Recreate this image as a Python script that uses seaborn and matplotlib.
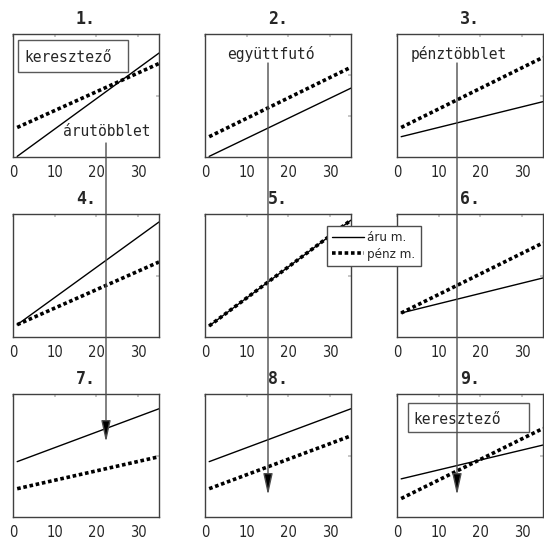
import pandas as pd
import matplotlib
matplotlib.use("Agg")
import matplotlib.pyplot as plt
import seaborn as sns
from matplotlib.patches import FancyArrowPatch, Rectangle

# values (y as fraction of each panel's height)
titles = ["1.", "2.", "3.", "4.", "5.", "6.", "7.", "8.", "9."]
x_vals = [1, 35]
aru_m = [[0.005, 0.845], [0.005, 0.56], [0.165, 0.45],
         [0.10, 0.935], [0.09, 0.95], [0.195, 0.48],
         [0.45, 0.88], [0.45, 0.88], [0.31, 0.585]]
penz_m = [[0.24, 0.76], [0.165, 0.73], [0.24, 0.81],
          [0.10, 0.61], [0.09, 0.95], [0.195, 0.765],
          [0.23, 0.49], [0.23, 0.66], [0.15, 0.72]]
xticks = [0, 10, 20, 30]
series_names = ["áru m.", "pénz m."]

rows = []
for i in range(9):
    for name, vals in zip(series_names, [aru_m[i], penz_m[i]]):
        for x, y in zip(x_vals, vals):
            rows.append({"panel": i, "series": name, "x": x, "y": y})
df = pd.DataFrame(rows)

sns.set_theme(style="white")
plt.rcParams["font.family"] = ["DejaVu Sans"]
mono = ["DejaVu Sans Mono"]

W, H = 544, 540
fig = plt.figure(figsize=(W / 100, H / 100), dpi=100)


def fx(px):
    return px / W


def fy(py):
    return 1 - py / H


lefts = [13, 205, 397]
tops = [34, 214, 394]
aw, ah = 146, 123

axes = []
for i in range(9):
    r, c = divmod(i, 3)
    ax = fig.add_axes([fx(lefts[c]), fy(tops[r] + ah), aw / W, ah / H])
    sub = df[df.panel == i]
    sns.lineplot(data=sub[sub.series == "áru m."], x="x", y="y", ax=ax,
                 color="black", linewidth=1.0, label="áru m.", legend=False)
    sns.lineplot(data=sub[sub.series == "pénz m."], x="x", y="y", ax=ax,
                 color="black", linewidth=2.6, linestyle=(0, (1, 0.75)),
                 label="pénz m.", legend=False)
    ax.set_xlim(0, 35)
    ax.set_ylim(0, 1)
    ax.set_xticks(xticks)
    ax.set_yticks([1 / 3, 2 / 3] if i == 1 else [0.5])
    ax.set_yticklabels([])
    ax.set_xlabel("")
    ax.set_ylabel("")
    ax.tick_params(direction="in", length=2.5, color="0.75", top=True,
                   right=True, pad=6, labelsize=10.5)
    for lab in ax.get_xticklabels():
        lab.set_fontstretch("condensed")
    for sp in ax.spines.values():
        sp.set_color("0.25")
        sp.set_linewidth(1.0)
    ax.set_title(titles[i], fontsize=12, fontweight="bold", family=mono, pad=7)
    axes.append(ax)

# legend next to panel 5
handles = axes[4].get_lines()[:2]
leg = fig.legend(handles, series_names, loc="upper left",
                 bbox_to_anchor=(fx(327), fy(226)), frameon=True, fancybox=False,
                 framealpha=1, edgecolor="0.3",
                 prop={"size": 9.5, "stretch": "condensed"},
                 handlelength=2.4, handletextpad=0.25, borderpad=0.4,
                 labelspacing=0.25, borderaxespad=0)
leg.get_frame().set_linewidth(1.0)

# text boxes (outline only, like the reference)
for (x0, y0, x1, y1) in [(18, 40, 128, 72), (408, 403, 529, 432)]:
    fig.add_artist(Rectangle((fx(x0), fy(y1)), fx(x1) - fx(x0), fy(y0) - fy(y1),
                             transform=fig.transFigure, fill=False,
                             ec="0.35", lw=1.0, zorder=6))
fig.text(fx(24), fy(57), "keresztező", family=mono, fontsize=10.5, ha="left",
         va="center", zorder=7)
fig.text(fx(413), fy(419), "keresztező", family=mono, fontsize=10.5, ha="left",
         va="center", zorder=7)

# labels with arrows
fig.text(fx(107), fy(131), "árutöbblet", family=mono, fontsize=10.5,
         ha="center", va="center", zorder=7)
fig.text(fx(271), fy(54), "együttfutó", family=mono, fontsize=10.5,
         ha="center", va="center", zorder=7)
fig.text(fx(459), fy(54), "pénztöbblet", family=mono, fontsize=10.5,
         ha="center", va="center", zorder=7)

for (x, y0, y1) in [(106, 143, 442), (268, 63, 495), (457, 63, 495)]:
    arr = FancyArrowPatch((fx(x), fy(y0)), (fx(x), fy(y1)),
                          transform=fig.transFigure,
                          arrowstyle="-|>,head_length=1.0,head_width=0.22",
                          mutation_scale=13, fc="black", ec="0.3", lw=1.0,
                          shrinkA=0, shrinkB=0, zorder=8)
    fig.add_artist(arr)

fig.savefig("out.png", dpi=100)
